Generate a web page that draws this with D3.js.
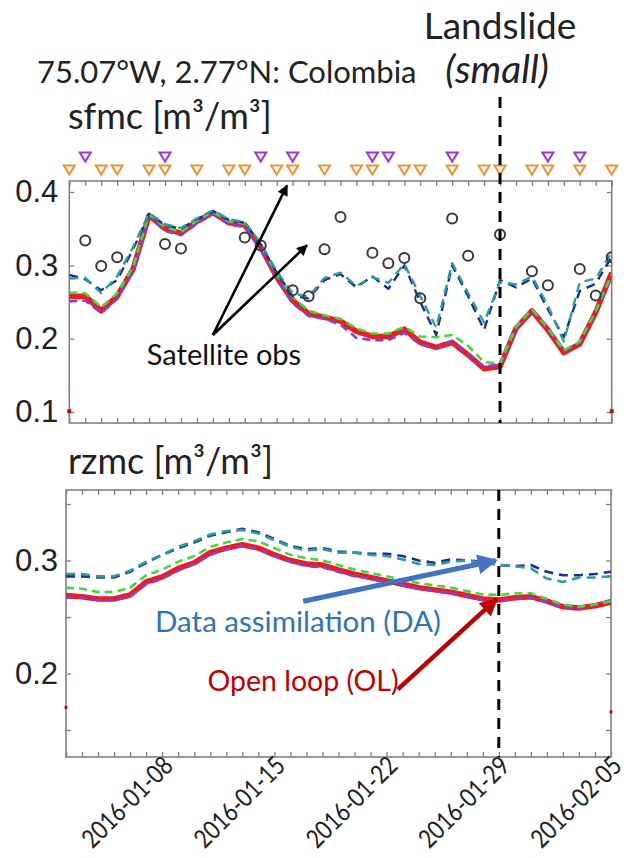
<!DOCTYPE html>
<html>
<head>
<meta charset="utf-8">
<script src="https://cdn.jsdelivr.net/npm/d3@7"></script>
<style>
  html, body { margin: 0; padding: 0; background: #fff; }
  svg { display: block; font-family: Lato, "Open Sans", sans-serif; }
</style>
</head>
<body>
<svg id="chart" width="636" height="858"></svg>
<script>
// ---- data -------------------------------------------------------------
const startDay = "2016-01-02";
const endDay = "2016-02-05";
const landslideDay = "2016-01-29";
const dateLabels = ["2016-01-08", "2016-01-15", "2016-01-22", "2016-01-29", "2016-02-05"];

// surface soil moisture (sfmc), one value per day
const sfmcOL = [0.258,0.258,0.238,0.258,0.295,0.368,0.350,0.344,0.360,0.372,0.358,0.355,0.325,0.284,0.252,0.234,0.229,0.224,0.210,0.203,0.203,0.213,0.195,0.188,0.195,0.178,0.159,0.162,0.214,0.238,0.212,0.181,0.193,0.236,0.290];
const sfmcOLpurple = [0.251,0.252,0.235,0.254,0.292,0.367,0.347,0.341,0.357,0.370,0.356,0.352,0.322,0.281,0.248,0.231,0.227,0.219,0.201,0.198,0.198,0.208,0.192,0.186,0.197,0.179,0.162,0.165,0.215,0.240,0.214,0.183,0.195,0.238,0.284];
const sfmcOLgreen = [0.263,0.262,0.243,0.262,0.298,0.370,0.352,0.346,0.361,0.373,0.360,0.357,0.328,0.288,0.257,0.238,0.232,0.227,0.214,0.207,0.207,0.216,0.203,0.202,0.205,0.190,0.168,0.166,0.216,0.240,0.214,0.184,0.196,0.238,0.288];
const sfmcDAnavy = [0.287,0.281,0.266,0.280,0.322,0.370,0.355,0.350,0.363,0.374,0.362,0.358,0.328,0.290,0.258,0.255,0.280,0.288,0.270,0.285,0.268,0.300,0.250,0.205,0.300,0.258,0.212,0.280,0.270,0.282,0.240,0.202,0.265,0.275,0.312];
const sfmcDAteal = [0.282,0.283,0.262,0.285,0.325,0.371,0.356,0.351,0.364,0.375,0.363,0.359,0.330,0.292,0.262,0.257,0.283,0.290,0.272,0.284,0.276,0.302,0.258,0.215,0.303,0.262,0.222,0.277,0.274,0.285,0.245,0.196,0.277,0.282,0.318];

// satellite observations of sfmc
const obsDates = ["2016-01-03","2016-01-04","2016-01-05","2016-01-08","2016-01-09","2016-01-13","2016-01-14","2016-01-16","2016-01-17","2016-01-18","2016-01-19","2016-01-21","2016-01-22","2016-01-23","2016-01-24","2016-01-26","2016-01-27","2016-01-29","2016-01-31","2016-02-01","2016-02-03","2016-02-04","2016-02-05"];
const obsValues = [0.334,0.299,0.311,0.329,0.323,0.338,0.327,0.266,0.258,0.322,0.366,0.317,0.303,0.310,0.255,0.364,0.313,0.342,0.292,0.273,0.295,0.259,0.311];

// overpass markers above the sfmc panel
const orangePasses = ["2016-01-02","2016-01-04","2016-01-05","2016-01-07","2016-01-08","2016-01-10","2016-01-12","2016-01-13","2016-01-15","2016-01-16","2016-01-18","2016-01-20","2016-01-21","2016-01-23","2016-01-24","2016-01-26","2016-01-28","2016-01-29","2016-01-31","2016-02-01","2016-02-03","2016-02-05"];
const purplePasses = ["2016-01-03","2016-01-08","2016-01-14","2016-01-16","2016-01-21","2016-01-22","2016-01-26","2016-02-01","2016-02-03"];

// root-zone soil moisture (rzmc)
const rzmcOL = [0.269,0.268,0.266,0.266,0.2695,0.281,0.2855,0.293,0.298,0.307,0.311,0.314,0.311,0.305,0.300,0.297,0.296,0.2916,0.288,0.285,0.282,0.279,0.276,0.274,0.272,0.269,0.266,0.265,0.267,0.268,0.264,0.259,0.258,0.260,0.263];
const rzmcOLpurple = [0.267,0.267,0.265,0.265,0.268,0.279,0.284,0.291,0.297,0.305,0.310,0.313,0.310,0.304,0.299,0.295,0.294,0.290,0.286,0.284,0.281,0.278,0.275,0.273,0.271,0.268,0.265,0.264,0.266,0.267,0.263,0.259,0.258,0.261,0.265];
const rzmcOLgreen = [0.276,0.275,0.272,0.272,0.276,0.287,0.292,0.299,0.304,0.312,0.316,0.319,0.317,0.311,0.305,0.302,0.300,0.296,0.292,0.289,0.286,0.283,0.280,0.278,0.276,0.273,0.270,0.2695,0.271,0.271,0.266,0.261,0.259,0.261,0.264];
const rzmcDAnavy = [0.286,0.286,0.285,0.285,0.290,0.298,0.305,0.311,0.316,0.322,0.325,0.328,0.325,0.319,0.313,0.310,0.311,0.308,0.307,0.306,0.306,0.304,0.300,0.298,0.301,0.300,0.299,0.296,0.295,0.296,0.290,0.287,0.287,0.288,0.290];
const rzmcDAteal = [0.288,0.288,0.286,0.286,0.291,0.299,0.305,0.312,0.317,0.323,0.326,0.327,0.324,0.318,0.312,0.309,0.310,0.307,0.307,0.305,0.304,0.301,0.297,0.296,0.299,0.300,0.298,0.296,0.295,0.293,0.284,0.281,0.285,0.285,0.286];

const sfmcTicks = [0.1, 0.2, 0.3, 0.4];
const rzmcTicks = [0.15, 0.2, 0.25, 0.3, 0.35];
const rzmcTickLabels = [0.2, 0.3];

// ---- helpers ----------------------------------------------------------
const parse = d3.utcParse("%Y-%m-%d");
const days = d3.utcDay.range(parse(startDay), d3.utcDay.offset(parse(endDay), 1));
const svg = d3.select("#chart");

const C = {
  red: "#ee1c1c", purple: "#8a3be0", green: "#3ddc3d",
  navy: "#1b2f9c", teal: "#2a9d9d", axis: "#808080", text: "#222",
  orange: "#f0932e", tri: "#9b35e6", obs: "#3a3a3a"
};

const defs = svg.append("defs");
function arrowMarker(id, color, w, h) {
  defs.append("marker").attr("id", id)
    .attr("viewBox", "0 0 10 10").attr("refX", 9).attr("refY", 5)
    .attr("markerWidth", w).attr("markerHeight", h)
    .attr("markerUnits", "userSpaceOnUse")
    .attr("orient", "auto")
    .append("path").attr("d", "M0,0 L10,5 L0,10 Z").attr("fill", color);
}
arrowMarker("headBlack", "#000", 13, 11);
arrowMarker("headBlue", "#4472c4", 22, 20);
arrowMarker("headRed", "#c00000", 20, 18);

function panel(box, yDomain, yTicks, yLabels, pad) {
  const x = d3.scaleUtc().domain([parse(startDay), parse(endDay)]).range([box.left, box.right]);
  const y = d3.scaleLinear().domain(yDomain).range([box.bottom, box.top]);
  const g = svg.append("g");
  const tickLen = 5;
  // daily ticks on bottom and top borders
  g.append("g").attr("transform", `translate(0,${box.bottom})`)
    .call(d3.axisBottom(x).tickValues(days).tickSize(-tickLen).tickFormat(""))
    .call(a => a.select(".domain").remove());
  g.append("g").attr("transform", `translate(0,${box.top})`)
    .call(d3.axisTop(x).tickValues(days).tickSize(-tickLen).tickFormat(""))
    .call(a => a.select(".domain").remove());
  // y ticks on left and right
  g.append("g").attr("transform", `translate(${box.left},0)`)
    .call(d3.axisLeft(y).tickValues(yTicks).tickSize(-tickLen)
      .tickFormat(d => yLabels.some(v => Math.abs(v - d) < 1e-9) ? d3.format(".1f")(d) : "")
      .tickPadding(pad))
    .call(a => a.select(".domain").remove())
    .call(a => a.selectAll("text").attr("fill", C.text).style("font-size", "31px"));
  g.append("g").attr("transform", `translate(${box.right},0)`)
    .call(d3.axisRight(y).tickValues(yTicks).tickSize(-tickLen).tickFormat(""))
    .call(a => a.select(".domain").remove());
  g.selectAll(".tick line").attr("stroke", C.axis).attr("stroke-width", 1.3);
  g.append("rect").attr("x", box.left).attr("y", box.top)
    .attr("width", box.right - box.left).attr("height", box.bottom - box.top)
    .attr("fill", "none").attr("stroke", C.axis).attr("stroke-width", 1.6);
  const clipId = "clip" + Math.round(box.top);
  defs.append("clipPath").attr("id", clipId).append("rect")
    .attr("x", box.left).attr("y", box.top)
    .attr("width", box.right - box.left).attr("height", box.bottom - box.top);
  const plot = svg.append("g").attr("clip-path", `url(#${clipId})`);
  return { x, y, g, plot };
}

function drawSeries(p, values, color, width, dash) {
  const line = d3.line().x((d, i) => p.x(days[i])).y(d => p.y(d));
  p.plot.append("path").datum(values)
    .attr("d", line).attr("fill", "none")
    .attr("stroke", color).attr("stroke-width", width)
    .attr("stroke-dasharray", dash || null)
    .attr("stroke-linejoin", "round");
}

// ---- sfmc panel ---------------------------------------------------------
const pTop = panel({ left: 69.3, right: 611.7, top: 181, bottom: 423 }, [0.085, 0.415], sfmcTicks, sfmcTicks, 11);
drawSeries(pTop, sfmcOL, C.red, 5.5);
drawSeries(pTop, sfmcOLpurple, C.purple, 2.6, "8,5");
drawSeries(pTop, sfmcOLgreen, C.green, 2.6, "8,5");
drawSeries(pTop, sfmcDAnavy, C.navy, 2.4, "9,6");
drawSeries(pTop, sfmcDAteal, C.teal, 2.4, "9,6");

pTop.plot.selectAll("circle.obs")
  .data(obsDates.map((d, i) => ({ date: parse(d), v: obsValues[i] })))
  .join("circle").attr("class", "obs")
  .attr("cx", d => pTop.x(d.date)).attr("cy", d => pTop.y(d.v)).attr("r", 5)
  .attr("fill", "none").attr("stroke", C.obs).attr("stroke-width", 2);

// out-of-range markers pinned at the panel edges
[[parse(startDay), 0.133, C.orange, 2], [parse(endDay), 0.131, C.orange, 2],
 [parse(startDay), 0.101, "#b01010", 4], [parse(endDay), 0.101, "#b01010", 4]].forEach(([d, v, c, s]) => {
  svg.append("rect").attr("x", pTop.x(d) - s / 2).attr("y", pTop.y(v) - s / 2)
    .attr("width", s).attr("height", s).attr("fill", c);
});

// overpass triangles
function triangles(list, yPos, color) {
  svg.append("g").selectAll("path").data(list.map(parse)).join("path")
    .attr("transform", d => `translate(${pTop.x(d)},${yPos})`)
    .attr("d", "M-5.5,-4.5 L5.5,-4.5 L0,4.5 Z")
    .attr("fill", "none").attr("stroke", color).attr("stroke-width", 2);
}
triangles(orangePasses, 170, C.orange);
triangles(purplePasses, 157, C.tri);

// ---- rzmc panel ---------------------------------------------------------
const pBot = panel({ left: 66, right: 611, top: 490, bottom: 757 }, [0.1261, 0.3624], rzmcTicks, rzmcTickLabels, 8);
drawSeries(pBot, rzmcOL, C.red, 5.5);
drawSeries(pBot, rzmcOLpurple, C.purple, 2.6, "8,5");
drawSeries(pBot, rzmcOLgreen, C.green, 2.6, "8,5");
drawSeries(pBot, rzmcDAnavy, C.navy, 2.6, "9,6");
drawSeries(pBot, rzmcDAteal, C.teal, 2.6, "9,6");

[[parse(startDay), 0.2, C.orange, 2], [parse(startDay), 0.17, "#b01010", 3], [parse(endDay), 0.166, "#b01010", 3]].forEach(([d, v, c, s]) => {
  svg.append("rect").attr("x", pBot.x(d) - s / 2).attr("y", pBot.y(v) - s / 2)
    .attr("width", s).attr("height", s).attr("fill", c);
});

// date labels under the rzmc panel, rotated 45 degrees
svg.append("g").selectAll("text").data(dateLabels.map(parse)).join("text")
  .attr("transform", d => `translate(${pBot.x(d) + 6},${pBot.y.range()[0] + 4}) rotate(-45)`)
  .attr("text-anchor", "end").attr("dy", "0.35em")
  .attr("textLength", 116).attr("lengthAdjust", "spacingAndGlyphs")
  .attr("fill", C.text).style("font-size", "26px")
  .text(d3.utcFormat("%Y-%m-%d"));

// ---- landslide marker --------------------------------------------------
const ls = parse(landslideDay);
[[97, 423, pTop.x(ls)], [490, 757, pBot.x(ls)]].forEach(([y1, y2, xx]) => {
  svg.append("line").attr("x1", xx).attr("x2", xx).attr("y1", y1).attr("y2", y2)
    .attr("stroke", "#000").attr("stroke-width", 3).attr("stroke-dasharray", "11,8");
});

// ---- text ---------------------------------------------------------------
svg.append("text").attr("x", 500).attr("y", 39).attr("text-anchor", "middle")
  .style("font-size", "37px").attr("fill", C.text).text("Landslide");
svg.append("text").attr("x", 37).attr("y", 83)
  .style("font-size", "31px").attr("fill", C.text).text("75.07°W, 2.77°N: Colombia");
svg.append("text").attr("x", 497).attr("y", 83).attr("text-anchor", "middle")
  .style("font-size", "39px").style("font-style", "italic").attr("fill", C.text).text("(small)");
svg.append("text").attr("x", 68).attr("y", 129)
  .style("font-size", "36px").attr("fill", C.text).text("sfmc [m³/m³]");
svg.append("text").attr("x", 68).attr("y", 474)
  .style("font-size", "36px").attr("fill", C.text).text("rzmc [m³/m³]");

// satellite obs annotation
const at = (p, di) => p.x(new Date(parse(startDay).getTime() + di * 864e5));
const tail = [at(pTop, 9), pTop.y(0.205)];
[[13.65, 0.409], [14.9, 0.3275]].forEach(([di, v]) => {
  svg.append("line").attr("x1", tail[0]).attr("y1", tail[1])
    .attr("x2", at(pTop, di)).attr("y2", pTop.y(v))
    .attr("stroke", "#000").attr("stroke-width", 2.6).attr("marker-end", "url(#headBlack)");
});
svg.append("text").attr("x", 224).attr("y", 365).attr("text-anchor", "middle")
  .style("font-size", "29px").attr("fill", "#111").text("Satellite obs");

// DA / OL annotations
svg.append("line")
  .attr("x1", at(pBot, 14.8)).attr("y1", pBot.y(0.264))
  .attr("x2", pBot.x(ls) - 3).attr("y2", pBot.y(0.300))
  .attr("stroke", "#4472c4").attr("stroke-width", 5).attr("marker-end", "url(#headBlue)");
svg.append("text").attr("x", 298).attr("y", 632).attr("text-anchor", "middle")
  .style("font-size", "29.5px").attr("fill", "#2e75b6").text("Data assimilation (DA)");
svg.append("line")
  .attr("x1", at(pBot, 20.7)).attr("y1", pBot.y(0.186))
  .attr("x2", pBot.x(ls) - 2).attr("y2", pBot.y(0.266))
  .attr("stroke", "#c00000").attr("stroke-width", 4.5).attr("marker-end", "url(#headRed)");
svg.append("text").attr("x", 303).attr("y", 691).attr("text-anchor", "middle")
  .style("font-size", "28.5px").attr("fill", "#c00000").text("Open loop (OL)");
</script>
</body>
</html>
